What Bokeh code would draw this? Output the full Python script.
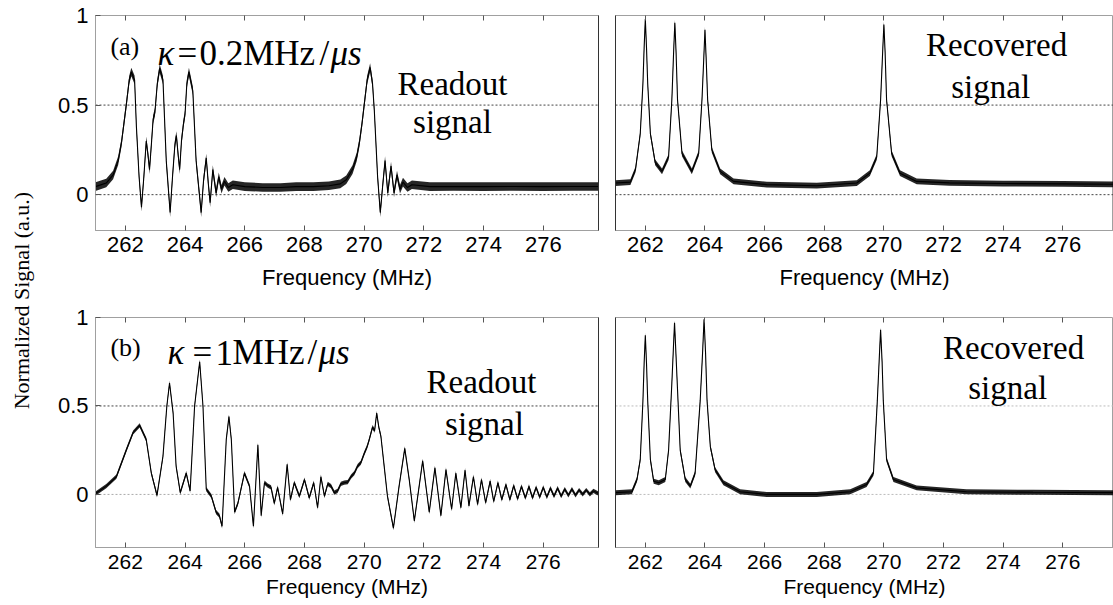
from math import pi
import numpy as np
from bokeh.plotting import figure
from bokeh.models import Label, Span, LinearAxis, FixedTicker, Range1d
from bokeh.layouts import row, column
from bokeh.embed import file_html
from bokeh.resources import INLINE

# ---------------- data ----------------
X_TICKS = [262, 264, 266, 268, 270, 272, 274, 276]
Y_TICKS = [0, 0.5, 1]
Y_TICK_LABELS = ["0", "0.5", "1"]
X_LABEL = "Frequency (MHz)"
Y_LABEL = "Normalized Signal (a.u.)"

# (a) kappa = 0.2 MHz/us, readout signal
A_READ_F = [261.00, 261.36, 261.59, 261.76, 261.87, 262.03, 262.13, 262.20, 262.31, 262.37,
            262.46, 262.54, 262.62, 262.70, 262.76, 262.81, 262.88, 262.93, 262.99, 263.07,
            263.15, 263.26, 263.37, 263.50, 263.58, 263.66, 263.71, 263.77, 263.82, 263.88,
            263.95, 264.00, 264.06, 264.13, 264.26, 264.37, 264.54, 264.62, 264.71, 264.78,
            264.84, 264.93, 265.04, 265.13, 265.22, 265.32, 265.45, 265.60, 266.00, 266.60,
            267.20, 267.72, 268.30, 268.82, 269.20, 269.40, 269.61, 269.75, 269.84, 269.93,
            270.00, 270.10, 270.20, 270.28, 270.34, 270.45, 270.54, 270.62, 270.70, 270.79,
            270.90, 271.00, 271.10, 271.20, 271.30, 271.45, 271.60, 272.20, 273.00, 274.00,
            275.00, 276.00, 277.00, 277.85]
A_READ_S = [0.045, 0.065, 0.11, 0.19, 0.29, 0.50, 0.64, 0.685, 0.64, 0.38,
            0.10, -0.07, 0.10, 0.30, 0.22, 0.14, 0.30, 0.42, 0.46, 0.62,
            0.705, 0.64, 0.19, -0.10, 0.10, 0.28, 0.33, 0.22, 0.14, 0.30,
            0.40, 0.45, 0.62, 0.685, 0.58, 0.19, -0.10, 0.08, 0.205, 0.06,
            -0.045, 0.14, 0.01, 0.10, 0.03, 0.075, 0.04, 0.055, 0.045, 0.040,
            0.040, 0.045, 0.045, 0.050, 0.060, 0.083, 0.14, 0.21, 0.29, 0.40,
            0.50, 0.64, 0.71, 0.62, 0.47, 0.10, -0.10, 0.05, 0.19, 0.01,
            0.16, 0.01, 0.11, 0.03, 0.07, 0.04, 0.055, 0.045, 0.046, 0.045,
            0.046, 0.045, 0.046, 0.046]

# (a) recovered signal
A_REC_F = [261.00, 261.50, 261.67, 261.83, 261.92, 261.96, 262.00, 262.04, 262.08, 262.17,
           262.33, 262.56, 262.78, 262.89, 262.95, 262.99, 263.03, 263.08, 263.23, 263.56,
           263.79, 263.90, 263.96, 264.00, 264.04, 264.09, 264.23, 264.51, 264.96, 266.07,
           267.75, 269.09, 269.53, 269.76, 269.89, 269.96, 270.00, 270.04, 270.09, 270.26,
           270.54, 271.10, 272.20, 274.00, 276.00, 277.70]
A_REC_S = [0.065, 0.070, 0.14, 0.34, 0.62, 0.82, 0.98, 0.82, 0.62, 0.34,
           0.18, 0.13, 0.21, 0.53, 0.80, 0.96, 0.80, 0.53, 0.23, 0.13,
           0.23, 0.53, 0.76, 0.92, 0.76, 0.53, 0.25, 0.13, 0.074, 0.056,
           0.050, 0.065, 0.12, 0.21, 0.53, 0.80, 0.95, 0.80, 0.53, 0.23,
           0.12, 0.074, 0.066, 0.062, 0.060, 0.058]

# (b) kappa = 1 MHz/us, readout signal
B_READ_F = [261.00, 261.36, 261.70, 262.03, 262.26, 262.48, 262.70, 262.87, 263.06, 263.26,
            263.39, 263.48, 263.60, 263.70, 263.84, 264.04, 264.17, 264.32, 264.49, 264.60,
            264.71, 264.88, 265.04, 265.15, 265.24, 265.38, 265.47, 265.55, 265.66, 265.77,
            265.99, 266.16, 266.29, 266.44, 266.55, 266.66, 266.77, 266.88, 266.99, 267.10,
            267.27, 267.42, 267.53, 267.66, 267.83, 268.00, 268.16, 268.31, 268.44, 268.55,
            268.67, 268.78, 268.89, 269.00, 269.11, 269.22, 269.33, 269.45, 269.56, 269.67,
            269.78, 269.89, 270.00, 270.10, 270.17, 270.28, 270.35, 270.42, 270.49, 270.56,
            270.67, 270.78, 270.98, 271.17, 271.36, 271.51, 271.68, 271.96, 272.18, 272.37,
            272.57, 272.74, 272.93, 273.07, 273.24, 273.38, 273.51, 273.66, 273.80, 273.93,
            274.07, 274.22, 274.34, 274.48, 274.61, 274.75, 274.88, 275.01, 275.14, 275.27,
            275.40, 275.52, 275.64, 275.76, 275.88, 276.00, 276.12, 276.24, 276.36, 276.48,
            276.60, 276.72, 276.84, 276.96, 277.08, 277.20, 277.32, 277.44, 277.56, 277.68,
            277.85]
B_READ_S = [0.005, 0.047, 0.10, 0.25, 0.35, 0.39, 0.31, 0.12, -0.005, 0.215,
            0.50, 0.63, 0.46, 0.16, 0.01, 0.12, 0.02, 0.50, 0.75, 0.50,
            0.03, -0.01, -0.10, -0.12, -0.18, 0.31, 0.44, 0.31, -0.10, -0.05,
            0.12, 0.047, -0.18, 0.28, -0.12, 0.066, 0.05, 0.04, -0.05, 0.04,
            -0.11, 0.17, -0.03, 0.066, -0.01, 0.084, -0.02, 0.066, -0.075, 0.10,
            -0.01, 0.06, 0.047, 0.01, 0.02, 0.06, 0.066, 0.07, 0.10, 0.12,
            0.16, 0.18, 0.23, 0.27, 0.31, 0.38, 0.36, 0.46, 0.38, 0.33,
            0.16, -0.01, -0.19, 0.047, 0.26, 0.084, -0.15, 0.19, -0.10, 0.15,
            -0.12, 0.14, -0.084, 0.12, -0.075, 0.137, -0.065, 0.10, -0.056, 0.084,
            -0.047, 0.075, -0.04, 0.066, -0.03, 0.056, -0.03, 0.05, -0.025, 0.045,
            -0.02, 0.045, -0.02, 0.04, -0.015, 0.04, -0.015, 0.035, -0.01, 0.035,
            -0.01, 0.03, -0.005, 0.03, -0.005, 0.025, 0.0, 0.025, 0.0, 0.02,
            0.005]

# (b) recovered signal
B_REC_F = [261.00, 261.55, 261.72, 261.83, 261.92, 261.96, 262.00, 262.04, 262.08, 262.17,
           262.28, 262.45, 262.67, 262.78, 262.89, 262.94, 262.98, 263.02, 263.07, 263.17,
           263.34, 263.51, 263.67, 263.84, 263.92, 263.97, 264.02, 264.07, 264.18, 264.34,
           264.62, 265.18, 266.07, 267.75, 268.87, 269.42, 269.65, 269.78, 269.84, 269.89,
           269.94, 269.98, 270.09, 270.32, 271.10, 272.77, 275.00, 277.70]
B_REC_S = [0.010, 0.015, 0.084, 0.197, 0.53, 0.74, 0.90, 0.74, 0.53, 0.197,
           0.075, 0.066, 0.084, 0.25, 0.63, 0.82, 0.97, 0.82, 0.63, 0.25,
           0.084, 0.047, 0.12, 0.53, 0.80, 0.99, 0.80, 0.53, 0.27, 0.14,
           0.066, 0.015, 0.0, 0.0, 0.015, 0.056, 0.12, 0.53, 0.75, 0.93,
           0.75, 0.53, 0.197, 0.084, 0.037, 0.015, 0.012, 0.010]

# thickness of the noise band seen on each trace (half width, signal units)
NOISE_A_READ = 0.024
NOISE_A_REC = 0.016
NOISE_B_READ = 0.012
NOISE_B_REC = 0.014

SANS = "Liberation Sans"
SERIF = "Liberation Serif"
FRAME_GRAY = "#a0a0a0"
DARK = "#333333"


def panel(width, height, xr, yr, freq, sig, noise, is_left, top_b, bot_b,
          font, lab_stand, title_stand, dot0, dot5):
    p = figure(width=width, height=height, x_range=Range1d(*xr), y_range=Range1d(*yr),
               toolbar_location=None, output_backend="svg",
               min_border_left=55 if is_left else 9,
               min_border_right=8 if is_left else 0,
               min_border_top=top_b, min_border_bottom=bot_b)
    p.grid.visible = False
    p.outline_line_color = FRAME_GRAY
    p.border_fill_color = "white"

    # bottom axis
    xa = p.xaxis[0]
    xa.ticker = FixedTicker(ticks=X_TICKS)
    xa.axis_line_color = FRAME_GRAY
    xa.major_tick_in = 5
    xa.major_tick_out = 0
    xa.major_tick_line_color = "#555555"
    xa.minor_tick_line_color = None
    xa.major_label_text_font = SANS
    xa.major_label_text_font_size = font
    xa.major_label_text_color = "black"
    xa.major_label_standoff = lab_stand
    xa.axis_label = X_LABEL
    xa.axis_label_text_font = SANS
    xa.axis_label_text_font_size = font
    xa.axis_label_text_font_style = "normal"
    xa.axis_label_text_color = "black"
    xa.axis_label_standoff = title_stand

    # tick marks on the top edge (no labels)
    top = LinearAxis(ticker=FixedTicker(ticks=X_TICKS), axis_line_color=None,
                     major_tick_in=5, major_tick_out=0, major_tick_line_color="#555555",
                     minor_tick_line_color=None, major_label_text_font_size="1px",
                     major_label_text_color=None, major_label_standoff=0)
    p.add_layout(top, "above")

    ya = p.yaxis[0]
    if is_left:
        ya.ticker = FixedTicker(ticks=Y_TICKS)
        ya.major_label_overrides = dict(zip(Y_TICKS, Y_TICK_LABELS))
        ya.axis_line_color = FRAME_GRAY
        ya.major_tick_in = 5
        ya.major_tick_out = 0
        ya.major_tick_line_color = "#555555"
        ya.minor_tick_line_color = None
        ya.major_label_text_font = SANS
        ya.major_label_text_font_size = "22px"
        ya.major_label_text_color = "black"
        ya.major_label_standoff = 7
        right = LinearAxis(ticker=FixedTicker(ticks=[]), axis_line_color=DARK,
                           major_tick_line_color=None, minor_tick_line_color=None,
                           major_label_standoff=0)
        p.add_layout(right, "right")
    else:
        ya.ticker = FixedTicker(ticks=[])
        ya.axis_line_color = DARK
        ya.major_tick_line_color = None
        ya.minor_tick_line_color = None
        ya.major_label_standoff = 0

    for loc, col in ((0, dot0), (0.5, dot5)):
        p.add_layout(Span(location=loc, dimension="width", line_color=col,
                          line_dash="2 2", line_width=1, level="underlay"))

    f = np.asarray(freq, dtype=float)
    s = np.asarray(sig, dtype=float)
    p.varea(x=f, y1=s - noise, y2=s + noise, fill_color="black", fill_alpha=0.85)
    p.line(f, s, line_color="black", line_width=1.1)
    return p


def lab(p, x, y, text, size, style="normal", align="left", baseline="alphabetic"):
    p.add_layout(Label(x=x, y=y, text=text, text_font=SERIF, text_font_size=size,
                       text_font_style=style, text_align=align, text_baseline=baseline,
                       text_color="black"))


LEFT_XR = (261.0, 277.85)
RIGHT_XR = (261.0, 277.70)
TOP_YR = (-0.2, 1.0)
BOT_YR = (-0.3, 1.0)

tl = panel(566, 304, LEFT_XR, TOP_YR, A_READ_F, A_READ_S, NOISE_A_READ, True, 15, 74,
           "22px", 6, 10, "#444444", "#444444")
tr = panel(507, 304, RIGHT_XR, TOP_YR, A_REC_F, A_REC_S, NOISE_A_REC, False, 15, 74,
           "22px", 6, 10, "#444444", "#444444")
bl = panel(566, 301, LEFT_XR, BOT_YR, B_READ_F, B_READ_S, NOISE_B_READ, True, 13, 58,
           "21px", 7, 3, "#aaaaaa", "#444444")
br = panel(507, 301, RIGHT_XR, BOT_YR, B_REC_F, B_REC_S, NOISE_B_REC, False, 13, 58,
           "21px", 7, 3, "#bbbbbb", "#bbbbbb")

# panel (a) texts
lab(tl, 261.50, 0.827, "(a)", "26px", baseline="middle")
lab(tl, 263.08, 0.79, "κ", "35px", "italic")
lab(tl, 263.75, 0.79, "=", "35px")
lab(tl, 264.48, 0.79, "0.2MHz", "35px")
lab(tl, 268.50, 0.79, "/", "35px")
lab(tl, 268.87, 0.79, "μs", "35px", "italic")
lab(tl, 272.96, 0.62, "Readout", "33px", align="center")
lab(tl, 272.96, 0.405, "signal", "33px", align="center")
lab(tr, 273.78, 0.835, "Recovered", "33px", align="center")
lab(tr, 273.58, 0.60, "signal", "33px", align="center")

# panel (b) texts
lab(bl, 261.50, 0.83, "(b)", "26px", baseline="middle")
lab(bl, 263.41, 0.80, "κ", "35px", "italic")
lab(bl, 264.25, 0.80, "=", "35px")
lab(bl, 265.02, 0.80, "1", "35px")
lab(bl, 265.59, 0.80, "MHz", "35px")
lab(bl, 268.10, 0.80, "/", "35px")
lab(bl, 268.47, 0.80, "μs", "35px", "italic")
lab(bl, 273.93, 0.635, "Readout", "33px", align="center")
lab(bl, 274.03, 0.40, "signal", "33px", align="center")
lab(br, 274.35, 0.83, "Recovered", "33px", align="center")
lab(br, 274.15, 0.60, "signal", "33px", align="center")

# shared y label
yl = figure(width=40, height=605, x_range=Range1d(0, 1), y_range=Range1d(0, 1),
            toolbar_location=None, output_backend="svg", min_border=0)
yl.axis.visible = False
yl.grid.visible = False
yl.outline_line_color = None
yl.add_layout(Label(x=0.52, y=0.504, text=Y_LABEL, angle=pi / 2, text_font=SERIF,
                    text_font_size="22px", text_align="center", text_baseline="middle",
                    text_color="black"))

layout = row(yl, column(row(tl, tr), row(bl, br)))
open("out.html", "w").write(file_html(layout, INLINE))
